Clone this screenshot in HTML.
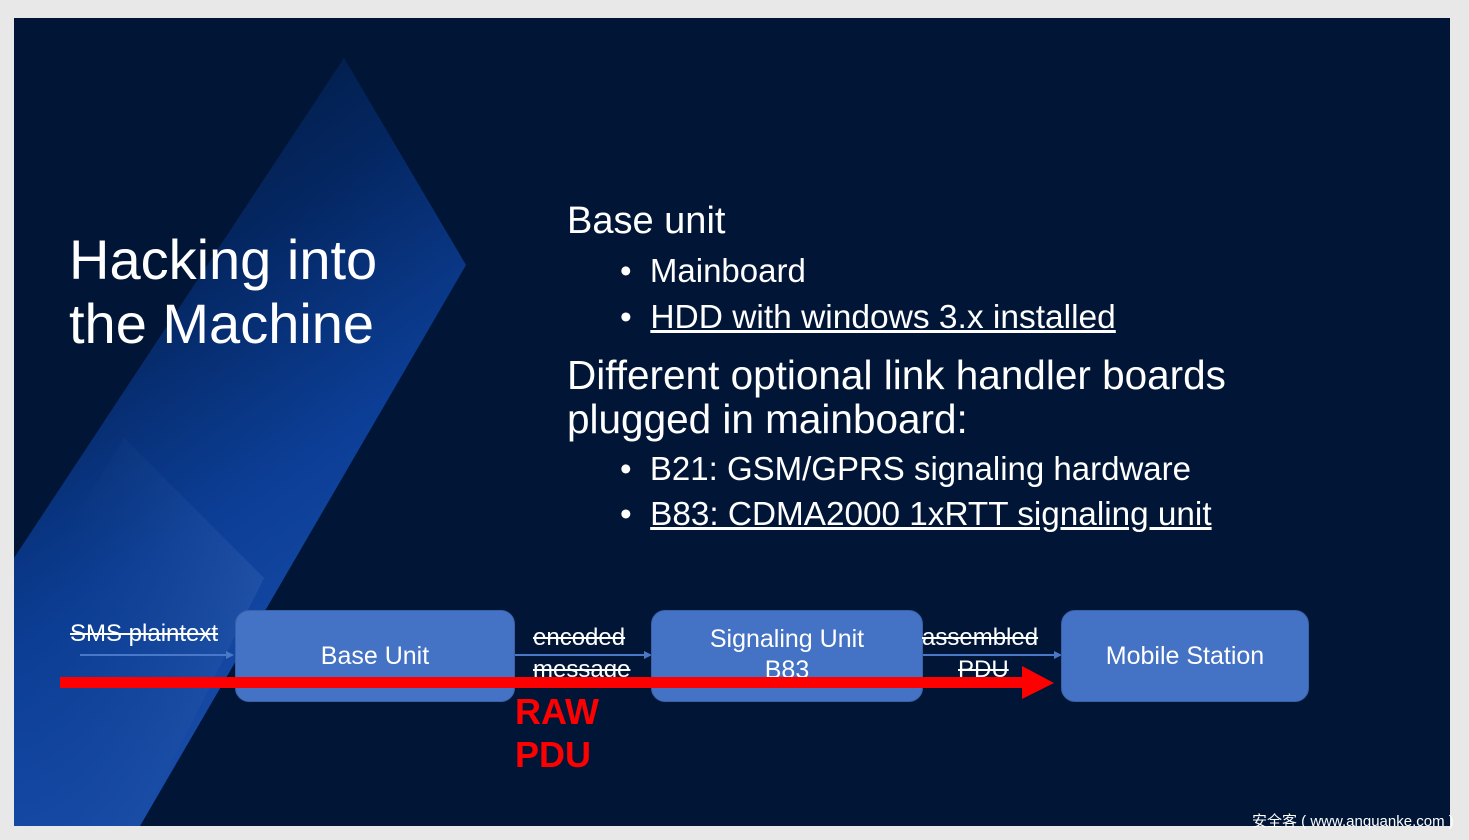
<!DOCTYPE html>
<html><head><meta charset="utf-8"><style>
body{margin:0;width:1469px;height:840px;background:#e8e8e8;position:relative;overflow:hidden;font-family:"Liberation Sans","Noto Sans CJK SC",sans-serif}
#slide{position:absolute;left:14px;top:18px;width:1436px;height:808px;background:#011637;overflow:hidden}
.t{position:absolute;color:#fff;white-space:nowrap}
.box{position:absolute;background:#4472c4;border-radius:14px;color:#fff;font-size:25px;display:flex;align-items:center;justify-content:center;text-align:center;line-height:31px;border:1px solid #3a62a8;box-sizing:border-box}
.s{text-decoration:line-through;font-size:24px;color:#fff;position:absolute;white-space:nowrap}
</style></head><body>
<div id="slide">
<svg width="1436" height="808" style="position:absolute;left:0;top:0">
<defs>
<linearGradient id="g1" x1="0.2" y1="0" x2="0.6" y2="1">
<stop offset="0" stop-color="#011637"/><stop offset="0.3" stop-color="#042660"/><stop offset="0.6" stop-color="#0c3e96"/><stop offset="1" stop-color="#1c52b0"/></linearGradient>
<linearGradient id="g2" x1="0" y1="0" x2="1" y2="0">
<stop offset="0" stop-color="#0a3275" stop-opacity="0"/><stop offset="1" stop-color="#3a68b8"/></linearGradient>
</defs>
<polygon points="330,40 452,247 126,808 0,808 0,540" fill="url(#g1)"/>
<polygon points="110,420 250,560 126,808 0,808 0,600" fill="url(#g2)" opacity="0.35"/>
<line x1="66" y1="637" x2="215" y2="637" stroke="#4a78c8" stroke-width="2"/>
<polygon points="220,637 212,633 212,641" fill="#4a78c8"/>
<line x1="500" y1="637" x2="632" y2="637" stroke="#4a78c8" stroke-width="2"/>
<polygon points="638,637 630,633 630,641" fill="#4a78c8"/>
<line x1="908" y1="637" x2="1042" y2="637" stroke="#4a78c8" stroke-width="2"/>
<polygon points="1048,637 1040,633 1040,641" fill="#4a78c8"/>
</svg>
<div class="t" style="left:55px;top:210px;font-size:56px;line-height:64px">Hacking into<br>the Machine</div>
<div class="t" style="left:553px;top:182px;font-size:38px">Base unit</div>
<div class="t" style="left:606px;top:234px;font-size:33px">•&nbsp;&nbsp;Mainboard</div>
<div class="t" style="left:606px;top:281px;font-size:33.5px">•&nbsp;&nbsp;<u>HDD with windows 3.x installed</u></div>
<div class="t" style="left:553px;top:335px;font-size:40.5px;line-height:44px">Different optional link handler boards<br>plugged in mainboard:</div>
<div class="t" style="left:606px;top:432px;font-size:33px">•&nbsp;&nbsp;B21: GSM/GPRS signaling hardware</div>
<div class="t" style="left:606px;top:478px;font-size:33.3px">•&nbsp;&nbsp;<u>B83: CDMA2000 1xRTT signaling unit</u></div>
<div class="s" style="left:56px;top:602px">SMS plaintext</div>
<div class="box" style="left:221px;top:592px;width:280px;height:92px">Base Unit</div>
<div class="s" style="left:519px;top:606px">encoded</div>
<div class="s" style="left:519px;top:638px">message</div>
<div class="box" style="left:637px;top:592px;width:272px;height:92px;padding-bottom:2px"><div>Signaling Unit<br>B83</div></div>
<div class="s" style="left:908px;top:606px">assembled</div>
<div class="s" style="left:944px;top:638px">PDU</div>
<div class="box" style="left:1047px;top:592px;width:248px;height:92px">Mobile Station</div>
<svg width="1436" height="808" style="position:absolute;left:0;top:0">
<rect x="46" y="659" width="964" height="11" fill="#ff0000"/>
<polygon points="1008,648 1040,665 1008,681" fill="#ff0000"/>
</svg>
<div class="t" style="left:501px;top:672px;font-size:36px;line-height:43px;color:#ff0000;font-weight:bold">RAW<br>PDU</div>
</div>
<div class="t" style="left:1252px;top:810px;font-size:15px;color:#fff">安全客 ( www.anquanke.com )</div>
</body></html>
